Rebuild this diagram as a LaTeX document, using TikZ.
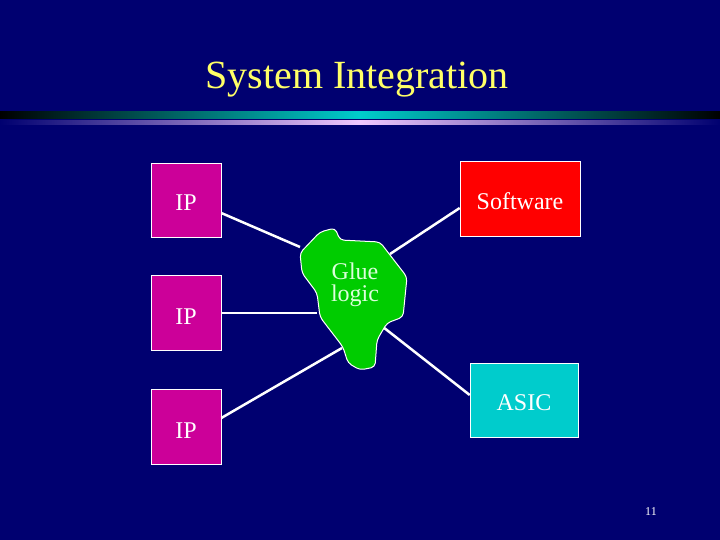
\documentclass[tikz,border=0pt]{standalone}
\usepackage{fontspec}
\setmainfont{Liberation Serif}
\begin{document}
\begin{tikzpicture}[x=1pt,y=-1pt,
  bx/.style={draw=white,line width=0.6pt,minimum width=70pt,minimum height=74pt,inner sep=0pt},
  lbl/.style={text=white,font=\fontsize{24}{26}\selectfont,inner sep=0pt},
  wire/.style={draw=white,line width=2.5pt}]
\definecolor{bg}{HTML}{000070}
\definecolor{mag}{HTML}{CC0099}
\definecolor{glue}{HTML}{00CC00}
\fill[bg] (0,0) rectangle (720,540);
\useasboundingbox (0,0) rectangle (720,540);
\node[text={rgb,255:red,255;green,255;blue,102},font=\fontsize{40}{44}\selectfont,inner sep=0pt] (title) at (357,80) {System Integration};
\shade[left color=black,right color=black,middle color={rgb,255:red,0;green,204;blue,204}] (0,112) rectangle (720,119);
\shade[left color=bg,right color=bg,middle color={rgb,255:red,240;green,200;blue,255}] (0,121) rectangle (720,125);
\node[bx,fill=mag] (ip1) at (186,200) {};
\node[bx,fill=mag,minimum height=75pt] (ip2) at (186,312.5) {};
\node[bx,fill=mag,minimum height=75pt] (ip3) at (186,426.5) {};
\node[bx,fill=red,minimum width=120pt,minimum height=75pt] (sw) at (520,198.5) {};
\node[bx,fill={rgb,255:red,0;green,204;blue,204},minimum width=108pt] (asic) at (524,400) {};
\node[lbl] at (186,203) {IP};
\node[lbl] at (186,317) {IP};
\node[lbl] at (186,431) {IP};
\node[lbl] at (520,201) {Software};
\node[lbl] at (524,403) {ASIC};
\coordinate (g1) at (300,247);
\coordinate (g2) at (390,254);
\coordinate (g3) at (317,313);
\coordinate (g4) at (342,348);
\coordinate (g5) at (383,327);
\draw[wire] (ip1.east |- 0,213) -- (g1);
\draw[wire] (sw.west |- 0,208) -- (g2);
\draw[wire] (ip2.east |- 0,313) -- (g3);
\draw[wire] (ip3.east |- 0,418) -- (g4);
\draw[wire] (g5) -- (asic.west |- 0,395);
\draw[white,line width=1pt,fill=glue,rounded corners=4pt] (300,253) -- (320,232) -- (335,228) -- (340,240) -- (380,242) -- (390,255) -- (407,277) -- (403,317) -- (387,323) -- (377,340) -- (375,367) -- (360,370) -- (348,363) -- (343,347) -- (320,317) -- (317,293) -- (302,273) -- cycle;
\node[lbl,align=center,text={rgb,255:red,220;green,255;blue,220},font=\fontsize{24}{22}\selectfont] (glue) at (355,285) {Glue\\logic};
\node[text=white,font=\fontsize{12}{14}\selectfont,inner sep=0pt] (pg) at (651,512) {11};
\end{tikzpicture}
\end{document}
